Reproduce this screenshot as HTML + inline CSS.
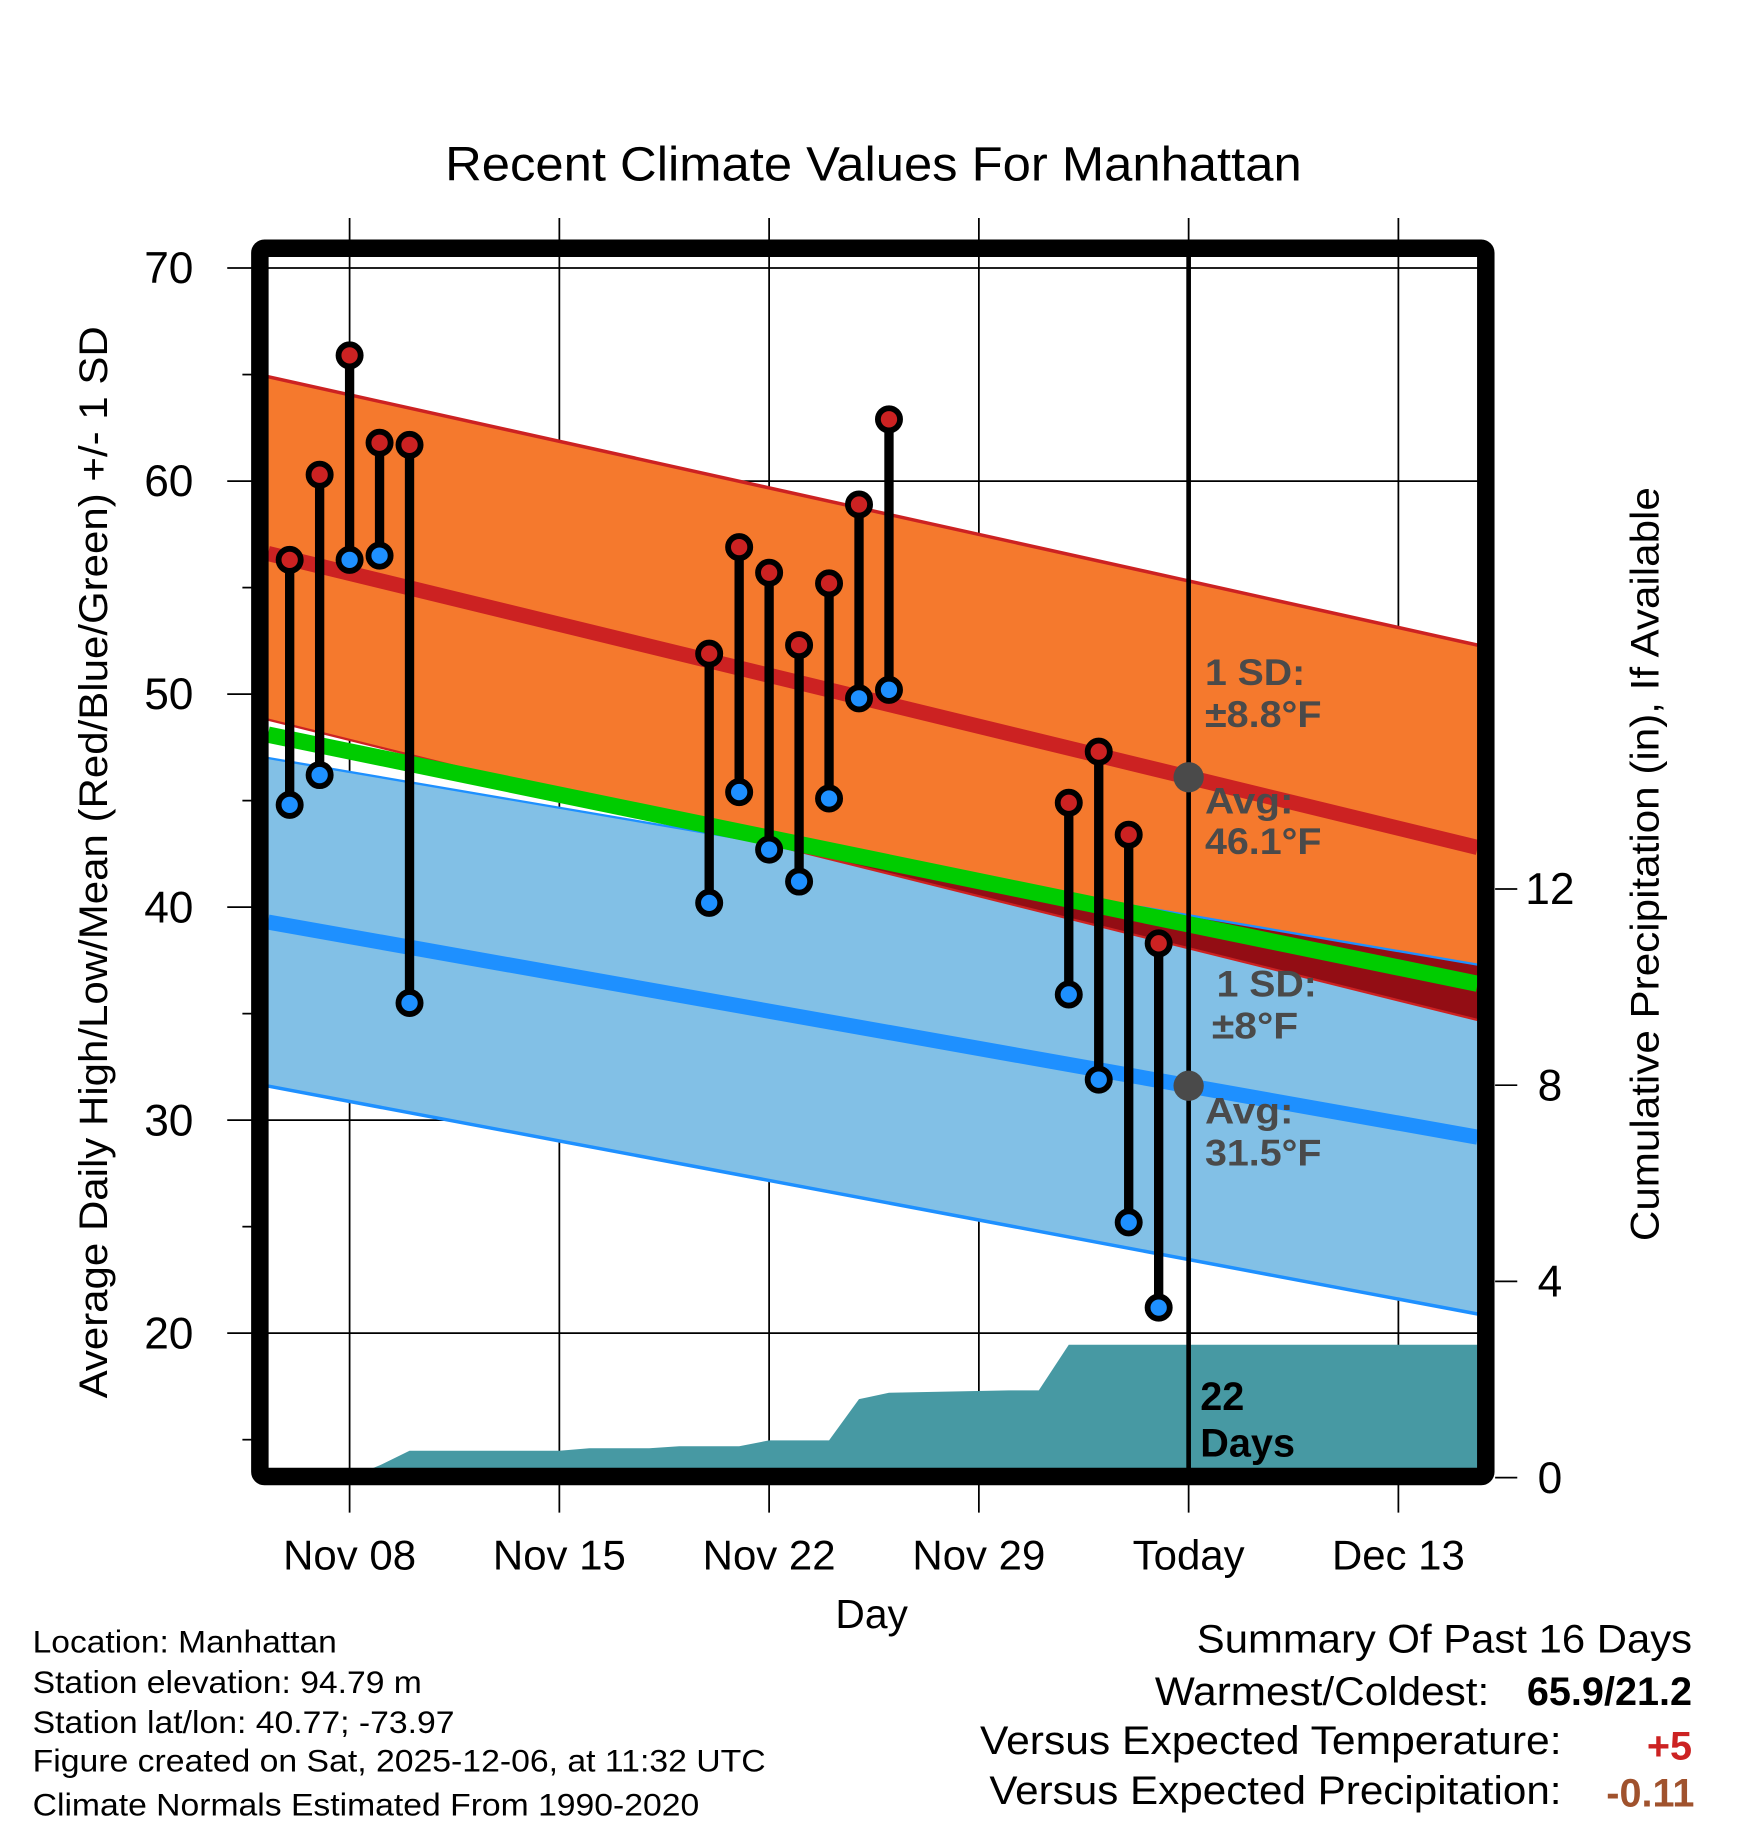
<!DOCTYPE html>
<html><head><meta charset="utf-8"><style>
html,body{margin:0;padding:0;background:#fff}
svg{display:block}
text{font-family:"Liberation Sans",sans-serif}
</style></head><body>
<svg id="chart" width="1748" height="1828" viewBox="0 0 1500 1568.6" xmlns="http://www.w3.org/2000/svg">
<text x="382" y="155" font-size="41" textLength="735" lengthAdjust="spacingAndGlyphs">Recent Climate Values For Manhattan</text>
<g id="grid"></g>
<g id="bands"></g>
<g id="precip"></g>
<g id="marks"></g>
<g id="frame"></g>
<g id="labels"></g>
<text transform="translate(92,1200) rotate(-90)" font-size="34" textLength="920" lengthAdjust="spacingAndGlyphs">Average Daily High/Low/Mean (Red/Blue/Green) +/- 1 SD</text>
<text transform="translate(1423,1065) rotate(-90)" font-size="34" textLength="647" lengthAdjust="spacingAndGlyphs">Cumulative Precipitation (in), If Available</text>
<text x="748" y="1397" font-size="35" text-anchor="middle">Day</text>
<g font-size="27">
<text x="28" y="1418" textLength="261" lengthAdjust="spacingAndGlyphs">Location: Manhattan</text>
<text x="28" y="1453" textLength="334" lengthAdjust="spacingAndGlyphs">Station elevation: 94.79 m</text>
<text x="28" y="1487" textLength="362" lengthAdjust="spacingAndGlyphs">Station lat/lon: 40.77; -73.97</text>
<text x="28" y="1520" textLength="629" lengthAdjust="spacingAndGlyphs">Figure created on Sat, 2025-12-06, at 11:32 UTC</text>
<text x="28" y="1558" textLength="572" lengthAdjust="spacingAndGlyphs">Climate Normals Estimated From 1990-2020</text>
</g>
<g font-size="34">
<text x="1027" y="1418" textLength="425" lengthAdjust="spacingAndGlyphs">Summary Of Past 16 Days</text>
<text x="991" y="1463" textLength="287" lengthAdjust="spacingAndGlyphs">Warmest/Coldest:</text>
<text x="1452" y="1463" text-anchor="end" font-weight="bold">65.9/21.2</text>
<text x="841" y="1505" textLength="499" lengthAdjust="spacingAndGlyphs">Versus Expected Temperature:</text>
<text x="1452" y="1510" text-anchor="end" font-weight="bold" fill="#cc2222">+5</text>
<text x="849" y="1548" textLength="491" lengthAdjust="spacingAndGlyphs">Versus Expected Precipitation:</text>
<text x="1454" y="1550" text-anchor="end" font-weight="bold" fill="#a0522d">-0.11</text>
</g>
</svg>
<script>
const days = [6,7,8,9,10,20,21,22,23,24,25,26,32,33,34,35];
const highs = [56.3,60.3,65.9,61.8,61.7,51.9,56.9,55.7,52.3,55.2,58.9,62.9,44.9,47.3,43.4,38.3];
const lows = [44.8,46.2,56.3,56.5,35.5,40.2,45.4,42.7,41.2,45.1,49.8,50.2,35.9,31.9,25.2,21.2];
const precipDays = [8,9,10,15,16,18,19,21,22,24,25,26,30,31,32,36];
const precipVals = [0,0.25,0.55,0.55,0.6,0.6,0.64,0.64,0.76,0.76,1.6,1.73,1.78,1.78,2.71,2.71];
const tempTicks = [20,30,40,50,60,70];
const precipTicks = [0,4,8,12];
const dateTicks = [8,15,22,29,36,43];
const dateLabels = ["Nov 08","Nov 15","Nov 22","Nov 29","Today","Dec 13"];
const normHigh = [56.6,42.8];
const normHighUp = [64.9,52.3];
const normHighLo = [48.8,34.7];
const normLow = [39.3,29.2];
const normLowUp = [47.0,37.3];
const normLowLo = [31.6,20.9];
const normMean = [48.1,36.4];

const NS="http://www.w3.org/2000/svg";
const L=230,R=1268,T=220,B=1260;
const xs=d=>300+(d-8)*25.714;
const ys=v=>1144-(v-20)*18.28;
const yp=v=>1268-v*42.1;
const dL=8+(L-300)/25.714, dR=8+(R-300)/25.714;
function mk(tag,attrs,parent){const e=document.createElementNS(NS,tag);for(const k in attrs)e.setAttribute(k,attrs[k]);parent.appendChild(e);return e;}
const lin=(a,t)=>a[0]+(a[1]-a[0])*t;
const g=document.getElementById('grid'),bands=document.getElementById('bands'),pr=document.getElementById('precip'),mr=document.getElementById('marks'),fr=document.getElementById('frame'),lb=document.getElementById('labels');

function band(up,lo,fill){const p=`${L},${ys(up[0])} ${R},${ys(up[1])} ${R},${ys(lo[1])} ${L},${ys(lo[0])}`;return mk('polygon',{points:p,fill:fill},bands);}
let e;
e=band(normLowUp,normLowLo,'#82c0e6');


e=band(normHighUp,normHighLo,'#f5792d');


const t0=(normHighLo[0]-normLowUp[0])/((normHighLo[0]-normLowUp[0])-(normHighLo[1]-normLowUp[1]));
if(t0>0&&t0<1){const xc=L+(R-L)*t0;
e=mk('polygon',{points:`${xc},${ys(lin(normLowUp,t0))} ${R},${ys(normLowUp[1])} ${R},${ys(normHighLo[1])}`,fill:'#930d14'},bands);

}
function line(a,col,w,name){const el=mk('line',{x1:L,y1:ys(a[0]),x2:R,y2:ys(a[1]),stroke:col,'stroke-width':w},bands);

}
line(normHighUp,'#cc2222',3,'high-sd-upper');
line(normHighLo,'#cc2222',2,'high-sd-lower');
line(normLowUp,'#1e90ff',2,'low-sd-upper');
line(normLowLo,'#1e90ff',3,'low-sd-lower');
line(normMean,'#00cc00',14,'mean-line');
line(normHigh,'#cc2222',13,'avg-high-line');
line(normLow,'#1e90ff',13,'avg-low-line');

let pts=`${xs(precipDays[0])},${yp(0)} `;
precipDays.forEach((d,i)=>{pts+=`${xs(d)},${yp(precipVals[i])} `;});
pts+=`${R},${yp(precipVals[precipVals.length-1])} ${R},${B} ${xs(precipDays[0])},${B}`;
e=mk('polygon',{points:pts,fill:'#4799a3'},pr);



tempTicks.forEach(v=>{e=mk('line',{x1:195,y1:ys(v),x2:R,y2:ys(v),stroke:'#000','stroke-width':1.5},g);


e=mk('text',{x:166,y:ys(v)+13,'font-size':38,'text-anchor':'end'},lb);e.textContent=v;


if(v<70){e=mk('line',{x1:208,y1:ys(v+5),x2:216,y2:ys(v+5),stroke:'#000','stroke-width':1.5},g);

}});
e=mk('line',{x1:208,y1:ys(15),x2:216,y2:ys(15),stroke:'#000','stroke-width':1.5},g);


dateTicks.forEach((d,i)=>{e=mk('line',{x1:xs(d),y1:187,x2:xs(d),y2:1298,stroke:'#000','stroke-width':1.5},g);


e=mk('text',{x:xs(d),y:1347,'font-size':36,'text-anchor':'middle'},lb);e.textContent=dateLabels[i];

});
precipTicks.forEach(v=>{e=mk('line',{x1:1283,y1:yp(v),x2:1302,y2:yp(v),stroke:'#000','stroke-width':1.5},fr);


e=mk('text',{x:1330,y:yp(v)+13,'font-size':38,'text-anchor':'middle'},lb);e.textContent=v;

});

e=mk('line',{x1:xs(36),y1:T,x2:xs(36),y2:B,stroke:'#000','stroke-width':4},mr);


days.forEach((d,i)=>{const x=xs(d);
e=mk('line',{x1:x,y1:ys(highs[i]),x2:x,y2:ys(lows[i]),stroke:'#000','stroke-width':8},mr);


e=mk('circle',{cx:x,cy:ys(highs[i]),r:9.5,fill:'#cc2222',stroke:'#000','stroke-width':5},mr);


e=mk('circle',{cx:x,cy:ys(lows[i]),r:9.5,fill:'#1e90ff',stroke:'#000','stroke-width':5},mr);

});
const tt=(36-dL)/(dR-dL);
[[normHigh,'avg-high-dot'],[normLow,'avg-low-dot']].forEach(([a,n])=>{e=mk('circle',{cx:xs(36),cy:ys(lin(a,tt)),r:13,fill:'#4a4a4a'},mr);

});
const ann=[[1034,588,'1 SD:',86],[1034,624,'±8.8°F',100],[1034,698,'Avg:',76],[1034,733,'46.1°F',100],[1044,855,'1 SD:',86],[1040,891,'±8°F',74],[1034,964,'Avg:',76],[1034,1000,'31.5°F',100]];
ann.forEach(a=>{e=mk('text',{x:a[0],y:a[1],'font-size':32,'font-weight':'bold',fill:'#4a4a4a',textLength:a[3],lengthAdjust:'spacingAndGlyphs'},mr);e.textContent=a[2];

});
[[1030,1210,'22'],[1030,1250,'Days']].forEach(a=>{e=mk('text',{x:a[0],y:a[1],'font-size':34,'font-weight':'bold',fill:'#000'},mr);e.textContent=a[2];

});
e=mk('rect',{x:223,y:213,width:1052,height:1054,fill:'none',stroke:'#000','stroke-width':15,rx:4},fr);


</script>
</body></html>
